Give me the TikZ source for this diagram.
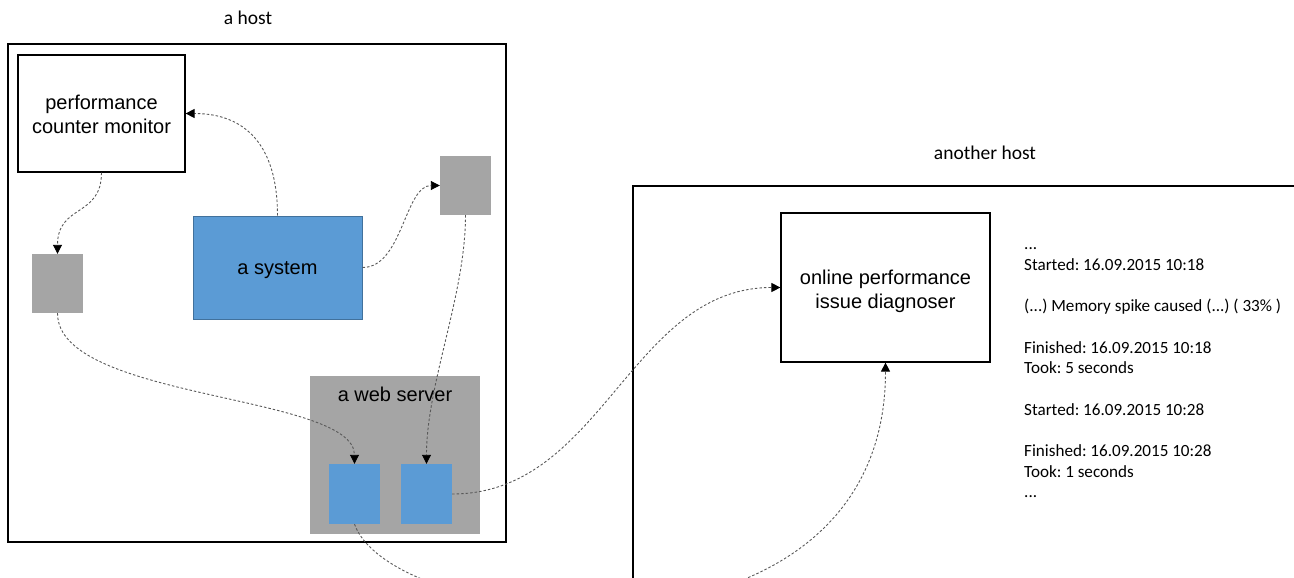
\documentclass[tikz,border=0pt]{standalone}
\usepackage{fontspec}
\setmainfont{Carlito}
\newfontfamily\arialfont{Liberation Sans}
\usetikzlibrary{arrows.meta,positioning}
\definecolor{boxgray}{HTML}{A5A5A5}
\definecolor{sysblue}{HTML}{5B9BD5}
\definecolor{sysedge}{HTML}{41719C}
\frenchspacing

\begin{document}
\begin{tikzpicture}[x=1pt,y=-1pt,
    hostbox/.style={draw,line width=1.3pt,inner sep=0pt},
    hostlabel/.style={font=\fontsize{19.5}{23}\selectfont},
    whitebox/.style={draw,line width=1.2pt,fill=white,inner sep=0pt},
    boxtext/.style={align=center,inner sep=0pt,font=\arialfont\fontsize{20}{24}\selectfont},
    graybox/.style={fill=boxgray,inner sep=0pt,minimum width=51pt,minimum height=59pt},
    bluebox/.style={fill=sysblue,inner sep=0pt,minimum width=51pt,minimum height=60pt},
    flow/.style={draw=black!65,line width=0.9pt,dash pattern=on 2.5pt off 2pt,
      -{Triangle[length=9pt,width=9pt,color=black]}}]
    \useasboundingbox (0,0) rectangle (1294,578);
    \clip (0,0) rectangle (1294,578);
    \node[hostbox,minimum width=498pt,minimum height=498pt] (host) at (257,293) {};
    \node[hostlabel] (hosttitle) at (248,18) {a host};
    \node[hostbox,minimum width=677pt,minimum height=414pt] (other) at (971.5,393) {};
    \node[hostlabel] (othertitle) at (985,153) {another host};
    \node[whitebox,minimum width=167pt,minimum height=117pt] (pcm) at (101.5,113.5) {};
    \node[boxtext] (pcmtext) at ([yshift=-1pt]pcm.center) {performance\\counter monitor};
    \node[graybox] (gleft) at (57.5,283.5) {};
    \node[draw=sysedge,fill=sysblue,line width=1pt,inner sep=0pt,minimum width=169pt,minimum height=103pt] (sys) at (277.5,267.5) {};
    \node[boxtext] (systext) at ([yshift=-3pt]sys.center) {a system};
    \node[graybox] (gtop) at (465.5,185.5) {};
    \node[fill=boxgray,inner sep=0pt,minimum width=170pt,minimum height=158pt] (web) at (395,455) {};
    \node[boxtext] (webtext) at (395,394) {a web server};
    \node[bluebox] (blone) at (354.5,494) {};
    \node[bluebox] (bltwo) at (426.5,494) {};
    \node[whitebox,minimum width=209pt,minimum height=149pt] (diag) at (885.5,287.5) {};
    \node[boxtext] (diagtext) at ([yshift=-3.5pt]diag.center) {online performance\\issue diagnoser};
    \node[anchor=north west,inner sep=0pt,align=left,font=\fontsize{17.1}{20.67}\selectfont] (log) at (1024,235)
      {\strut...\\Started: 16.09.2015 10:18\\[20.67pt]
       (...) Memory spike caused (...) ( 33\% )\\[20.67pt]
       Finished: 16.09.2015 10:18\\Took: 5 seconds\\[20.67pt]
       Started: 16.09.2015 10:28\\[20.67pt]
       Finished: 16.09.2015 10:28\\Took: 1 seconds\\...};
    \draw[flow] (sys.north) .. controls +(0,-70) and +(60,0) .. (pcm.east);
    \draw[flow] (pcm.south) .. controls +(0,45) and +(0,-50) .. (gleft.north);
    \draw[flow] (sys.east) .. controls +(40,0) and +(-35,0) .. (gtop.west);
    \draw[flow] (gtop.south) .. controls +(0,80) and +(0,-80) .. (bltwo.north);
    \draw[flow] (gleft.south) .. controls +(0,87) and +(0,-70) .. (blone.north);
    \draw[flow] (bltwo.east) .. controls +(150,0) and +(-150,0) .. (diag.west);
    \draw[flow] (blone.south) .. controls +(40,110) and +(0,320) .. (diag.south);
\end{tikzpicture}
\end{document}
